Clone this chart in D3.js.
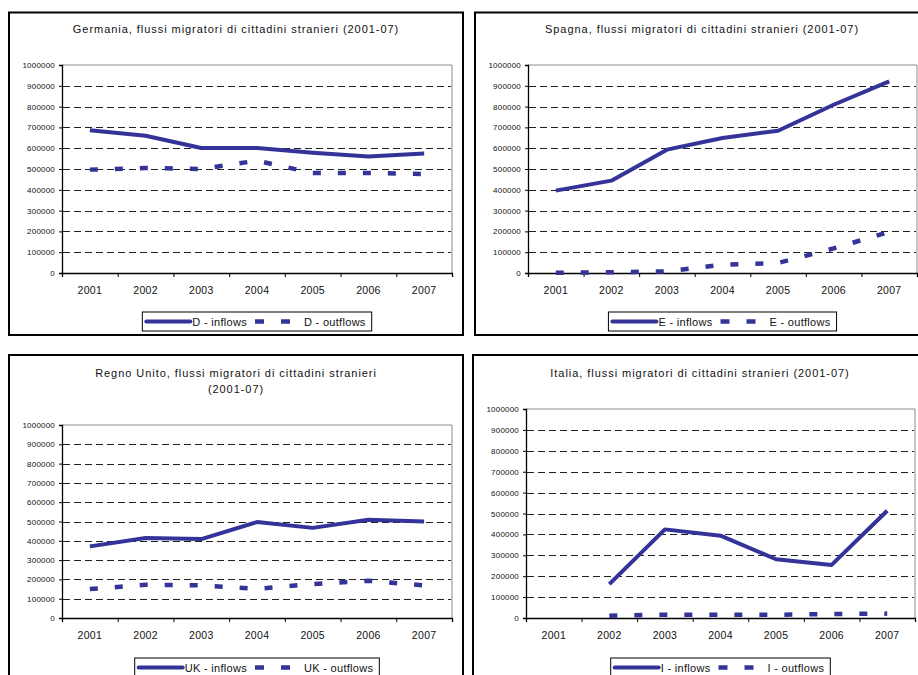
<!DOCTYPE html>
<html>
<head>
<meta charset="utf-8">
<script src="https://cdn.jsdelivr.net/npm/d3@7"></script>
<style>
  html, body { margin: 0; padding: 0; background: #fff; }
  svg { display: block; font-family: "Liberation Sans", Arial, sans-serif; }
</style>
</head>
<body>
<svg id="chart" width="918" height="675"></svg>
<script>
// ---------- DATA ----------
const years = ["2001", "2002", "2003", "2004", "2005", "2006", "2007"];
const yTicks = [0, 100000, 200000, 300000, 400000, 500000, 600000, 700000, 800000, 900000, 1000000];

const deInflows  = [686000, 660000, 601000, 601000, 578000, 560000, 574000];
const deOutflows = [497000, 505000, 500000, 540000, 481000, 481000, 476000];

const esInflows  = [396000, 444000, 593000, 649000, 684000, 809000, 921000];
const esOutflows = [1000, 4000, 8000, 40000, 48000, 118000, 198000];

const ukInflows  = [371000, 415000, 409000, 497000, 467000, 509000, 500000];
const ukOutflows = [150000, 172000, 169000, 151000, 176000, 193000, 169000];

const itInflows  = [null, 162000, 424000, 394000, 281000, 254000, 513000];
const itOutflows = [null, 11000, 16000, 16000, 15000, 19000, 21000];

const titles = [
  ["Germania, flussi migratori di cittadini stranieri (2001-07)"],
  ["Spagna, flussi migratori di cittadini stranieri (2001-07)"],
  ["Regno Unito, flussi migratori di cittadini stranieri", "(2001-07)"],
  ["Italia, flussi migratori di cittadini stranieri (2001-07)"]
];
const inflowLabels  = ["D - inflows", "E - inflows", "UK - inflows", "I - inflows"];
const outflowLabels = ["D - outflows", "E - outflows", "UK - outflows", "I - outflows"];

// ---------- LAYOUT ----------
const panels = [
  { x: 9,   y: 12.5, w: 454, h: 322.5, plot: { l: 62,  t: 65,  r: 452, b: 273 }, titleY: 33,  legendY: 312, inflows: deInflows, outflows: deOutflows },
  { x: 475, y: 12.5, w: 454, h: 322.5, plot: { l: 528, t: 65,  r: 917, b: 273 }, titleY: 33,  legendY: 312, inflows: esInflows, outflows: esOutflows },
  { x: 9,   y: 355,  w: 454, h: 340,   plot: { l: 62,  t: 425, r: 452, b: 618 }, titleY: 377, legendY: 658, inflows: ukInflows, outflows: ukOutflows },
  { x: 473, y: 355,  w: 454, h: 340,   plot: { l: 526, t: 409, r: 915, b: 618 }, titleY: 377, legendY: 658, inflows: itInflows, outflows: itOutflows }
];

const lineColor = "#333399";
const svg = d3.select("#chart");

panels.forEach((p, i) => {
  const g = svg.append("g");

  // panel border
  g.append("rect")
    .attr("x", p.x).attr("y", p.y).attr("width", p.w).attr("height", p.h)
    .attr("fill", "#fff").attr("stroke", "#000").attr("stroke-width", 2);

  // title
  const cx = p.x + p.w / 2;
  titles[i].forEach((line, k) => {
    g.append("text")
      .attr("x", cx).attr("y", p.titleY + k * 16)
      .attr("text-anchor", "middle")
      .attr("font-size", 11).attr("letter-spacing", "0.95px")
      .attr("fill", "#111")
      .text(line);
  });

  const pl = p.plot;
  const x = d3.scaleBand().domain(years).range([pl.l, pl.r]).padding(0);
  const y = d3.scaleLinear().domain([0, 1000000]).range([pl.b, pl.t]);

  // plot area frame (top/right grey)
  g.append("path")
    .attr("d", `M${pl.l},${pl.t}H${pl.r}V${pl.b}`)
    .attr("fill", "none").attr("stroke", "#8a8a8a").attr("stroke-width", 1);

  // gridlines
  g.append("g").selectAll("line")
    .data(yTicks.filter(v => v > 0 && v < 1000000))
    .join("line")
    .attr("x1", pl.l + 1).attr("x2", pl.r - 1)
    .attr("y1", d => Math.round(y(d)) + 0.5).attr("y2", d => Math.round(y(d)) + 0.5)
    .attr("stroke", "#222").attr("stroke-width", 1)
    .attr("stroke-dasharray", "7,4");

  // y axis
  const ya = g.append("g")
    .attr("transform", `translate(${pl.l},0)`)
    .call(d3.axisLeft(y).tickValues(yTicks).tickSize(3).tickPadding(4).tickFormat(d3.format("d")));
  ya.select(".domain").attr("stroke", "#000").attr("stroke-width", 1.3);
  ya.selectAll(".tick line").attr("stroke", "#000");
  ya.selectAll(".tick text").attr("font-size", 8).attr("letter-spacing", "0.2px")
    .attr("fill", "#111").attr("font-family", "Liberation Sans, Arial, sans-serif");

  // x axis: ticks at category boundaries
  const xb = d3.scaleLinear().domain([0, years.length]).range([pl.l, pl.r]);
  const xa = g.append("g")
    .attr("transform", `translate(0,${pl.b})`)
    .call(d3.axisBottom(xb).tickValues(d3.range(years.length + 1)).tickSize(4).tickFormat(""));
  xa.select(".domain").attr("stroke", "#000").attr("stroke-width", 1.3);
  xa.selectAll(".tick line").attr("stroke", "#000");

  // x labels
  g.append("g").selectAll("text")
    .data(years).join("text")
    .attr("x", d => x(d) + x.bandwidth() / 2)
    .attr("y", pl.b + 21)
    .attr("text-anchor", "middle")
    .attr("font-size", 10.5).attr("letter-spacing", "0.3px")
    .attr("fill", "#111")
    .text(d => d);

  // lines
  const line = d3.line()
    .defined(d => d.v != null)
    .x(d => x(d.year) + x.bandwidth() / 2)
    .y(d => y(d.v));

  g.append("path")
    .datum(years.map((yr, j) => ({ year: yr, v: p.outflows[j] })))
    .attr("d", line)
    .attr("fill", "none").attr("stroke", lineColor).attr("stroke-width", 4.5)
    .attr("stroke-dasharray", "8,17");

  g.append("path")
    .datum(years.map((yr, j) => ({ year: yr, v: p.inflows[j] })))
    .attr("d", line)
    .attr("fill", "none").attr("stroke", lineColor).attr("stroke-width", 4)
    .attr("stroke-linejoin", "round");

  // legend
  const lg = g.append("g");
  const fs = 11;
  const tmp1 = lg.append("text").attr("font-size", fs).attr("letter-spacing", "0.3px").text(inflowLabels[i]);
  const tmp2 = lg.append("text").attr("font-size", fs).attr("letter-spacing", "0.3px").text(outflowLabels[i]);
  const maxW = Math.max(tmp1.node().getComputedTextLength(), tmp2.node().getComputedTextLength());
  tmp1.remove(); tmp2.remove();
  const itemW = 50 + maxW + 3;
  const boxW = itemW * 2;
  const bx = (pl.l + pl.r) / 2 - boxW / 2;
  const by = p.legendY;
  const bh = 19;
  lg.append("rect")
    .attr("x", bx).attr("y", by).attr("width", boxW).attr("height", bh)
    .attr("fill", "#fff").attr("stroke", "#000").attr("stroke-width", 1);
  const ly = by + bh / 2;
  lg.append("line")
    .attr("x1", bx + 4).attr("x2", bx + 48).attr("y1", ly).attr("y2", ly)
    .attr("stroke", lineColor).attr("stroke-width", 4).attr("stroke-linecap", "round");
  lg.append("text")
    .attr("x", bx + 50).attr("y", ly + 4)
    .attr("font-size", fs).attr("letter-spacing", "0.3px").attr("fill", "#111")
    .text(inflowLabels[i]);
  lg.append("line")
    .attr("x1", bx + itemW - 2).attr("x2", bx + itemW + 44).attr("y1", ly).attr("y2", ly)
    .attr("stroke", lineColor).attr("stroke-width", 4.5).attr("stroke-dasharray", "9,17");
  lg.append("text")
    .attr("x", bx + itemW + 47).attr("y", ly + 4)
    .attr("font-size", fs).attr("letter-spacing", "0.3px").attr("fill", "#111")
    .text(outflowLabels[i]);
});
</script>
</body>
</html>
